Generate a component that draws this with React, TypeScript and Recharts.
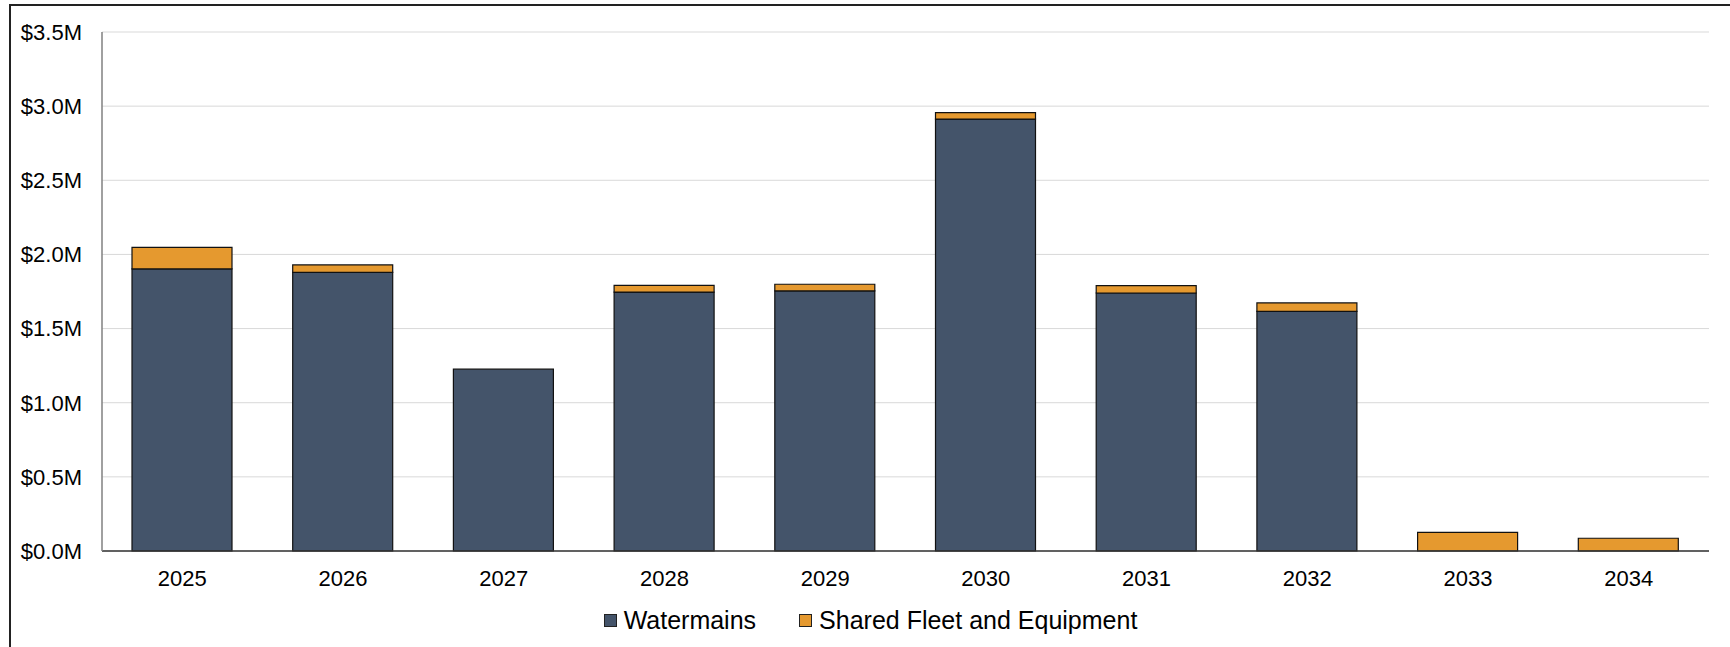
import React from 'react';
import { BarChart, Bar, XAxis, YAxis, CartesianGrid, Legend } from 'recharts';

const years = ['2025', '2026', '2027', '2028', '2029', '2030', '2031', '2032', '2033', '2034'];
const watermains = [1902000, 1879000, 1226000, 1746000, 1754000, 2913000, 1740000, 1616000, 0, 0];
const sharedFleet = [146000, 50000, 0, 45000, 45000, 43000, 50000, 57000, 126000, 86000];
const yTicks = [0, 500000, 1000000, 1500000, 2000000, 2500000, 3000000, 3500000];

const seriesNames = ['Watermains', 'Shared Fleet and Equipment'];
const seriesColors = ['#44546A', '#E5992F'];

const data = years.map((y, i) => ({
  year: y,
  watermains: watermains[i],
  shared: sharedFleet[i],
}));

const FONT = '"Liberation Sans", Arial, sans-serif';

const fmt = (v: number) => `$${(v / 1000000).toFixed(1)}M`;

const renderLegend = (props: any) => {
  const payload = [...(props.payload || [])].sort(
    (a: any, b: any) => seriesNames.indexOf(a.value) - seriesNames.indexOf(b.value)
  );
  return (
    <div
      style={{
        display: 'flex',
        justifyContent: 'center',
        alignItems: 'center',
        height: 40,
        fontFamily: FONT,
        fontSize: 25,
        color: '#000',
      }}
    >
      {payload.map((p: any, i: number) => (
        <div
          key={i}
          style={{ display: 'flex', alignItems: 'center', marginLeft: i === 0 ? 0 : 43 }}
        >
          <span
            style={{
              display: 'inline-block',
              width: 11,
              height: 11,
              background: p.color,
              border: '1px solid #222',
              marginRight: 7,
            }}
          />
          <span>{p.value}</span>
        </div>
      ))}
    </div>
  );
};

export default function App() {
  return (
    <div
      style={{
        position: 'absolute',
        left: 9,
        top: 4,
        width: 1719,
        height: 641,
        borderTop: '2px solid #222',
        borderLeft: '2px solid #222',
        background: '#fff',
      }}
    >
      <BarChart
        width={1719}
        height={641}
        data={data}
        margin={{ top: 26, right: 21, left: 0, bottom: 0 }}
        barSize={100}
      >
        <CartesianGrid vertical={false} stroke="#D9D9D9" strokeWidth={1} />
        <XAxis
          dataKey="year"
          height={56}
          tickLine={false}
          tickSize={0}
          tickMargin={19}
          axisLine={{ stroke: '#333', strokeWidth: 1.5 }}
          tick={{ fontFamily: FONT, fontSize: 22, fill: '#000' }}
        />
        <YAxis
          width={91}
          domain={[0, 3500000]}
          ticks={yTicks}
          tickFormatter={fmt}
          tickLine={false}
          tickSize={0}
          tickMargin={20}
          axisLine={{ stroke: '#808080', strokeWidth: 1.5 }}
          tick={{ fontFamily: FONT, fontSize: 22, fill: '#000' }}
          interval={0}
        />
        <Legend
          verticalAlign="bottom"
          height={40}
          content={renderLegend}
          itemSorter={null as any}
          wrapperStyle={{ top: 594, left: 0, width: 1719 }}
        />
        <Bar
          dataKey="watermains"
          name={seriesNames[0]}
          stackId="a"
          fill={seriesColors[0]}
          stroke="#111"
          strokeWidth={1.2}
          isAnimationActive={false}
        />
        <Bar
          dataKey="shared"
          name={seriesNames[1]}
          stackId="a"
          fill={seriesColors[1]}
          stroke="#111"
          strokeWidth={1.2}
          isAnimationActive={false}
        />
      </BarChart>
    </div>
  );
}
